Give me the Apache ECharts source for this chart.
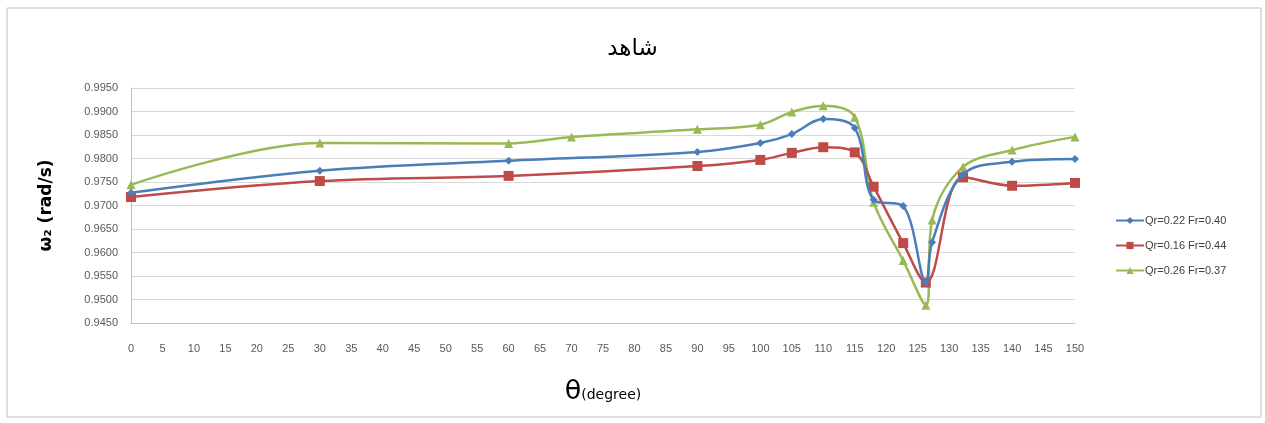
<!DOCTYPE html>
<html>
<head>
<meta charset="utf-8">
<script src="https://cdn.jsdelivr.net/npm/echarts@6/dist/echarts.min.js"></script>
<style>
  html, body { margin: 0; padding: 0; background: #ffffff; }
  #chart { width: 1265px; height: 423px; }
</style>
</head>
<body>
<div id="chart"></div>
<script>
// Angle θ (degree) of each measured point, per case
const thetaA = [0, 30, 60, 90, 100, 105, 110, 115, 118, 122.7, 126.3, 127.3, 132.2, 140, 150];
const thetaB = [0, 30, 60, 90, 100, 105, 110, 115, 118, 122.7, 126.3, 132.2, 140, 150];
const thetaC = [0, 30, 60, 70, 90, 100, 105, 110, 115, 118, 122.7, 126.3, 127.3, 132.2, 140, 150];

// ω2 (rad/s) for each case
const seriesNames = ['Qr=0.22 Fr=0.40', 'Qr=0.16 Fr=0.44', 'Qr=0.26 Fr=0.37'];
const omegaA = [0.9727, 0.9774, 0.9795, 0.9814, 0.9833, 0.9852, 0.9884, 0.9865, 0.9712, 0.9699, 0.9537, 0.9622, 0.9766, 0.9793, 0.9799];
const omegaB = [0.9718, 0.9752, 0.9763, 0.9784, 0.9797, 0.9812, 0.9824, 0.9813, 0.9740, 0.9620, 0.9536, 0.9760, 0.9742, 0.9748];
const omegaC = [0.9744, 0.9833, 0.9832, 0.9846, 0.9862, 0.9872, 0.9899, 0.9912, 0.9888, 0.9707, 0.9583, 0.9488, 0.9669, 0.9782, 0.9818, 0.9846];

const colors = ['#4a7ebb', '#be4b48', '#98b954'];
const symbols = ['diamond', 'rect', 'triangle'];
const symbolSizes = [8, 10, 9];

const pair = (xs, ys) => xs.map((x, i) => [x, ys[i]]);
const seriesData = [pair(thetaA, omegaA), pair(thetaB, omegaB), pair(thetaC, omegaC)];

const chart = echarts.init(document.getElementById('chart'), null, { renderer: 'canvas' });

chart.setOption({
  animation: false,
  backgroundColor: '#ffffff',
  textStyle: { fontFamily: 'Liberation Sans, DejaVu Sans, sans-serif' },
  graphic: [{
    type: 'rect',
    shape: { x: 7, y: 8, width: 1254, height: 409 },
    style: { fill: 'none', stroke: '#bfbfbf', lineWidth: 1 },
    silent: true
  }],
  title: {
    text: 'شاهد',
    left: 'center',
    top: 33,
    textStyle: { fontFamily: 'DejaVu Sans', fontSize: 23, fontWeight: 'normal', color: '#000000' }
  },
  legend: {
    orient: 'vertical',
    left: 1110,
    top: 210,
    itemGap: 14,
    itemWidth: 28,
    itemHeight: 9,
    textStyle: { fontSize: 11, color: '#404040', padding: [0, 0, 0, -4] },
    data: seriesNames
  },
  grid: { left: 131, right: 190, top: 88, bottom: 100 },
  xAxis: {
    type: 'value',
    min: 0,
    max: 150,
    interval: 5,
    name: '{t|θ}{d|(degree)}',
    nameLocation: 'middle',
    nameGap: 55,
    nameTextStyle: {
      rich: {
        t: { fontSize: 27, color: '#000', fontFamily: 'DejaVu Sans' },
        d: { fontSize: 14, color: '#000', fontFamily: 'DejaVu Sans', padding: [8, 0, 0, 0] }
      }
    },
    axisLine: { lineStyle: { color: '#bfbfbf' } },
    axisTick: { show: false },
    splitLine: { show: false },
    axisLabel: { color: '#595959', fontSize: 11, margin: 20 }
  },
  yAxis: {
    type: 'value',
    min: 0.945,
    max: 0.995,
    interval: 0.005,
    name: 'ω₂ (rad/s)',
    nameLocation: 'middle',
    nameGap: 76,
    nameRotate: 90,
    nameTextStyle: { fontSize: 17, fontWeight: 'bold', color: '#000', fontFamily: 'DejaVu Sans' },
    axisLine: { show: true, lineStyle: { color: '#bfbfbf' } },
    axisTick: { show: false },
    splitLine: { lineStyle: { color: '#d9d9d9' } },
    axisLabel: {
      color: '#595959',
      fontSize: 11,
      margin: 13,
      formatter: v => v.toFixed(4)
    }
  },
  series: seriesNames.map((name, i) => ({
    name: name,
    type: 'line',
    data: seriesData[i],
    smooth: 0.35,
    symbol: symbols[i],
    symbolSize: symbolSizes[i],
    lineStyle: { color: colors[i], width: 2.5 },
    itemStyle: { color: colors[i] },
    z: 3 - i
  }))
});
</script>
</body>
</html>
